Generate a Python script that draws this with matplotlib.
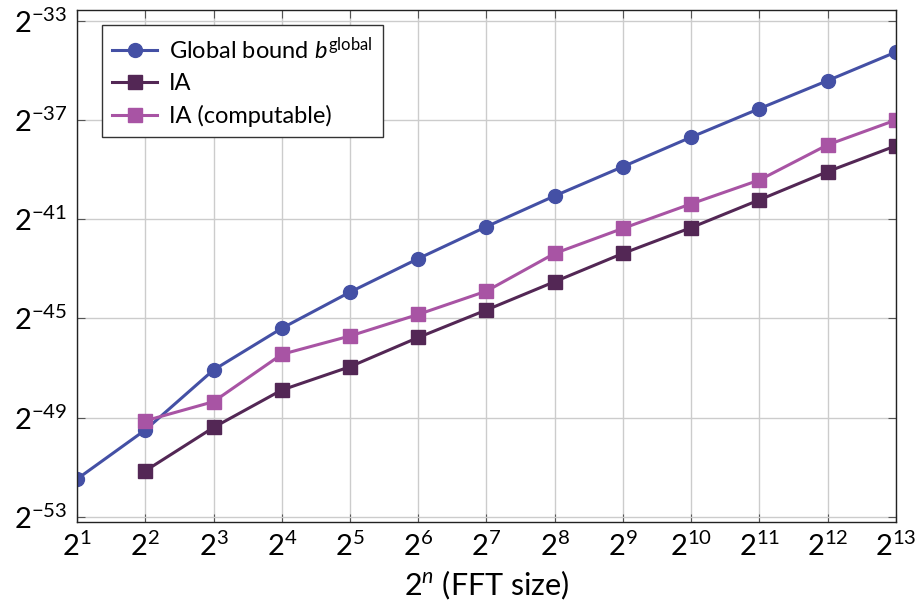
import matplotlib
matplotlib.use("Agg")
import matplotlib.pyplot as plt
from matplotlib.ticker import FixedLocator, LogFormatterMathtext, NullLocator

# log2 of FFT size
n_global = [1, 2, 3, 4, 5, 6, 7, 8, 9, 10, 11, 12, 13]
n_ia = [2, 3, 4, 5, 6, 7, 8, 9, 10, 11, 12, 13]

# log2 of error bounds
exp_global = [-51.48, -49.5, -47.08, -45.40, -43.94, -42.59, -41.30,
              -40.06, -38.88, -37.69, -36.54, -35.41, -34.26]
exp_ia = [-51.15, -49.40, -47.89, -46.95, -45.77, -44.66, -43.52,
          -42.38, -41.34, -40.22, -39.08, -38.04]
exp_ia_comp = [-49.13, -48.36, -46.45, -45.71, -44.84, -43.90, -42.38,
               -41.37, -40.38, -39.42, -38.00, -37.0]

x_tick_exp = list(range(1, 14))
y_tick_exp = [-53, -49, -45, -41, -37, -33]

plt.rcParams['font.family'] = ['Lato', 'DejaVu Sans']
plt.rcParams['mathtext.fontset'] = 'custom'
plt.rcParams['mathtext.rm'] = 'Lato'
plt.rcParams['mathtext.it'] = 'Lato:italic'
plt.rcParams['mathtext.sf'] = 'Lato'
plt.rcParams['font.size'] = 17

fig = plt.figure(figsize=(9.15, 6.05), dpi=100)
ax = fig.add_axes([0.0842, 0.1377, 0.8948, 0.8458])

ax.plot([2.0**v for v in n_global], [2.0**v for v in exp_global],
        color='#4450a5', lw=2.2, marker='o', ms=10, label=r'Global bound $b^{\mathrm{global}}$')
ax.plot([2.0**v for v in n_ia], [2.0**v for v in exp_ia],
        color='#532755', lw=2.2, marker='s', ms=10, label='IA')
ax.plot([2.0**v for v in n_ia], [2.0**v for v in exp_ia_comp],
        color='#a854a4', lw=2.2, marker='s', ms=10, label='IA (computable)')

ax.set_xscale('log', base=2)
ax.set_yscale('log', base=2)
ax.set_xlim(2.0**1, 2.0**13)
ax.set_ylim(2.0**-53.2, 2.0**-32.56)

ax.xaxis.set_major_locator(FixedLocator([2.0**v for v in x_tick_exp]))
ax.yaxis.set_major_locator(FixedLocator([2.0**v for v in y_tick_exp]))
ax.xaxis.set_major_formatter(LogFormatterMathtext(base=2))
ax.yaxis.set_major_formatter(LogFormatterMathtext(base=2))
ax.xaxis.set_minor_locator(NullLocator())
ax.yaxis.set_minor_locator(NullLocator())

ax.grid(True, color='#cccccc', lw=1.0)
ax.set_axisbelow(True)
ax.tick_params(direction='in', length=6, width=0.8, color='#555555',
               top=True, right=True, labelsize=21, pad=7)
for s in ax.spines.values():
    s.set_linewidth(1.0)
    s.set_color('#222222')

ax.set_xlabel(r'$2^{n}$ (FFT size)', fontsize=22, labelpad=6)

leg = ax.legend(loc='upper left', bbox_to_anchor=(0.03, 0.97), fontsize=17,
                fancybox=False, framealpha=1, edgecolor='#333333',
                handlelength=1.9, handletextpad=0.5, borderpad=0.45,
                labelspacing=0.45, borderaxespad=0)
leg.get_frame().set_linewidth(1.0)

fig.savefig('out.png', dpi=100)
